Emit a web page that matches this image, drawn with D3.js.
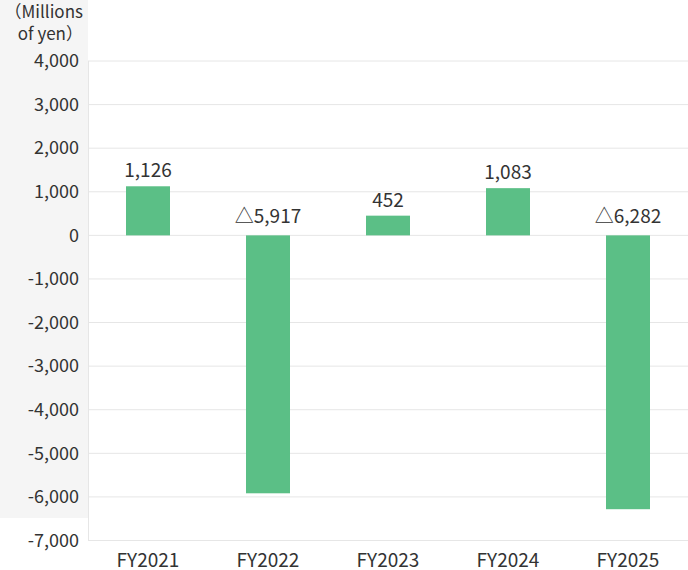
<!DOCTYPE html>
<html>
<head>
<meta charset="utf-8">
<script src="https://cdn.jsdelivr.net/npm/d3@7"></script>
<style>
  body { margin: 0; background: #fff; }
  text { font-family: "Noto Sans CJK JP", "Noto Sans", sans-serif; fill: #333; }
</style>
</head>
<body>
<svg width="688" height="570"></svg>
<script>
// données
const years = ["FY2021", "FY2022", "FY2023", "FY2024", "FY2025"];
const values = [1126, -5917, 452, 1083, -6282];
const yTicks = [4000, 3000, 2000, 1000, 0, -1000, -2000, -3000, -4000, -5000, -6000, -7000];

const svg = d3.select("svg");
const fmt = d => d3.format(",")(d).replace("−", "-");

// fond gris à gauche
svg.append("rect")
    .attr("x", 0).attr("y", 0)
    .attr("width", 88).attr("height", 518)
    .attr("fill", "#f5f5f5");

const x = d3.scaleBand()
    .domain(years)
    .range([88, 688]);

const y = d3.scaleLinear()
    .domain([-7000, 4000])
    .range([540.5, 61]);

// lignes de grille
svg.selectAll("line.grid")
    .data(yTicks)
    .join("line")
    .attr("class", "grid")
    .attr("x1", 88).attr("x2", 688)
    .attr("y1", d => y(d)).attr("y2", d => y(d))
    .attr("stroke", "#e6e6e6")
    .attr("stroke-width", 1);

svg.append("line")
    .attr("x1", 88.5).attr("x2", 88.5)
    .attr("y1", y(4000)).attr("y2", y(-7000))
    .attr("stroke", "#e6e6e6");

// étiquettes de l'axe y
svg.selectAll("text.ytick")
    .data(yTicks)
    .join("text")
    .attr("class", "ytick")
    .attr("x", 79)
    .attr("y", d => y(d))
    .attr("dy", "0.35em")
    .attr("text-anchor", "end")
    .attr("font-size", "18px")
    .text(fmt);

svg.append("text")
    .attr("x", 83).attr("y", 18)
    .attr("text-anchor", "end")
    .attr("font-size", "17px")
    .text("（Millions");
svg.append("text")
    .attr("x", 83).attr("y", 40)
    .attr("text-anchor", "end")
    .attr("font-size", "17px")
    .text("of yen）");

// barres
const bw = 44;
svg.selectAll("rect.bar")
    .data(values)
    .join("rect")
    .attr("class", "bar")
    .attr("x", (d, i) => x(years[i]) + x.bandwidth() / 2 - bw / 2)
    .attr("y", d => y(Math.max(0, d)))
    .attr("width", bw)
    .attr("height", d => Math.abs(y(d) - y(0)))
    .attr("fill", "#5bbf86");

// valeurs
svg.selectAll("text.val")
    .data(values)
    .join("text")
    .attr("class", "val")
    .attr("x", (d, i) => x(years[i]) + x.bandwidth() / 2)
    .attr("y", d => d >= 0 ? y(d) - 9 : y(0) - 12)
    .attr("text-anchor", "middle")
    .attr("font-size", "19px")
    .text(d => d < 0 ? "△" + d3.format(",")(-d) : d3.format(",")(d));

// étiquettes x
svg.selectAll("text.xl")
    .data(years)
    .join("text")
    .attr("class", "xl")
    .attr("x", d => x(d) + x.bandwidth() / 2)
    .attr("y", 567)
    .attr("text-anchor", "middle")
    .attr("font-size", "19px")
    .text(d => d);
</script>
</body>
</html>
